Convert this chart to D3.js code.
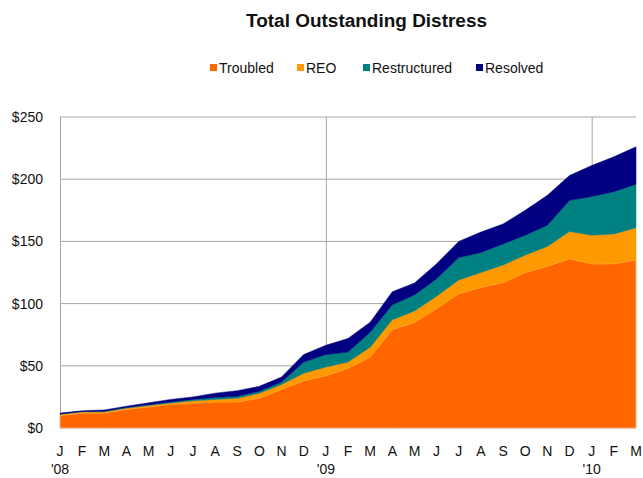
<!DOCTYPE html>
<html>
<head>
<meta charset="utf-8">
<script src="https://cdn.jsdelivr.net/npm/d3@7"></script>
<style>
  body { margin: 0; background: #fff; }
  svg { display: block; font-family: "Liberation Sans", Arial, sans-serif; }
</style>
</head>
<body>
<svg id="chart" width="643" height="478"></svg>
<script>
// month labels, Jan 2008 .. Mar 2010
const months = ['J','F','M','A','M','J','J','A','S','O','N','D',
                'J','F','M','A','M','J','J','A','S','O','N','D',
                'J','F','M'];
const yearLabels = { 0: "'08", 12: "'09", 24: "'10" };

// $bn
const troubled     = [10, 12, 12, 15, 17, 19, 20, 21, 21, 24, 31, 38, 42, 48, 57, 79, 85, 96, 108, 113, 117, 125, 130, 136, 132, 132, 135];
const reo          = [1, 1, 1, 1, 1, 1, 2, 2, 3, 4, 4, 6, 7, 5, 8, 8, 9, 10, 11, 12, 14, 14, 16, 22, 23, 24, 26];
const restructured = [0.3, 0.3, 0.5, 0.5, 0.7, 1, 1, 1.5, 1.5, 1.5, 2, 9, 10, 8, 12, 12, 13, 14, 18, 16, 17, 16, 17, 25, 31, 34, 35];
const resolved     = [0.7, 0.5, 1, 1, 1.5, 2, 2, 3.5, 4.5, 4, 4, 6, 7.5, 11, 8, 10.5, 9.5, 12, 13, 16.5, 16, 20, 24, 20, 25, 28, 30];

const seriesNames = ['Troubled', 'REO', 'Restructured', 'Resolved'];
const colors = ['#ff6600', '#ff9900', '#008080', '#000080'];
const yTicks = [0, 50, 100, 150, 200, 250];

const rows = months.map((m, i) => ({
    idx: i,
    Troubled: troubled[i],
    REO: reo[i],
    Restructured: restructured[i],
    Resolved: resolved[i]
}));

const svg = d3.select('#chart');
const margin = { left: 60, right: 7, top: 117, bottom: 50 };
const width = 643, height = 478;

const x = d3.scaleLinear().domain([0, months.length - 1]).range([margin.left, width - margin.right]);
const y = d3.scaleLinear().domain([0, 250]).range([height - margin.bottom, margin.top]);

// title
svg.append('text')
    .attr('x', 246).attr('y', 26.5)
    .attr('font-size', 18).attr('font-weight', 'bold')
    .attr('textLength', 241).attr('lengthAdjust', 'spacingAndGlyphs')
    .attr('fill', '#111')
    .text('Total Outstanding  Distress');

// legend
const legendX = [210, 297, 363, 476];
const legend = svg.append('g');
seriesNames.forEach((name, i) => {
    legend.append('rect')
        .attr('x', legendX[i]).attr('y', 64)
        .attr('width', 7).attr('height', 7)
        .attr('fill', colors[i]);
    legend.append('text')
        .attr('x', legendX[i] + 9).attr('y', 73)
        .attr('font-size', 14)
        .attr('fill', '#111')
        .text(name);
});

// horizontal gridlines
svg.append('g')
    .selectAll('line')
    .data(yTicks)
    .join('line')
    .attr('x1', margin.left).attr('x2', width - margin.right)
    .attr('y1', d => y(d)).attr('y2', d => y(d))
    .attr('stroke', '#a6a6a6').attr('stroke-width', 1);

// year separators
svg.append('g')
    .selectAll('line')
    .data([0, 12, 24])
    .join('line')
    .attr('x1', d => x(d) + 0.5).attr('x2', d => x(d) + 0.5)
    .attr('y1', y(250)).attr('y2', y(0))
    .attr('stroke', '#a6a6a6').attr('stroke-width', 1);

// stacked areas
const stack = d3.stack().keys(seriesNames);
const layers = stack(rows);
const area = d3.area()
    .x(d => x(d.data.idx))
    .y0(d => y(d[0]))
    .y1(d => y(d[1]));

svg.append('g')
    .selectAll('path')
    .data(layers)
    .join('path')
    .attr('d', area)
    .attr('fill', (d, i) => colors[i])
    .attr('stroke', (d, i) => i === 0 ? '#ffb27a' : colors[i])
    .attr('stroke-width', (d, i) => i === 0 ? 0.8 : 0.5);

// y axis labels
svg.append('g')
    .selectAll('text')
    .data(yTicks)
    .join('text')
    .attr('x', 43).attr('y', d => y(d) + 5)
    .attr('text-anchor', 'end')
    .attr('font-size', 14)
    .attr('fill', '#111')
    .text(d => '$' + d);

// x axis labels
svg.append('g')
    .selectAll('text')
    .data(months)
    .join('text')
    .attr('x', (d, i) => x(i)).attr('y', 456)
    .attr('text-anchor', 'middle')
    .attr('font-size', 14)
    .attr('fill', '#111')
    .text(d => d);

svg.append('g')
    .selectAll('text')
    .data(Object.entries(yearLabels))
    .join('text')
    .attr('x', d => x(+d[0])).attr('y', 474)
    .attr('text-anchor', 'middle')
    .attr('font-size', 14)
    .attr('fill', '#111')
    .text(d => d[1]);
</script>
</body>
</html>
